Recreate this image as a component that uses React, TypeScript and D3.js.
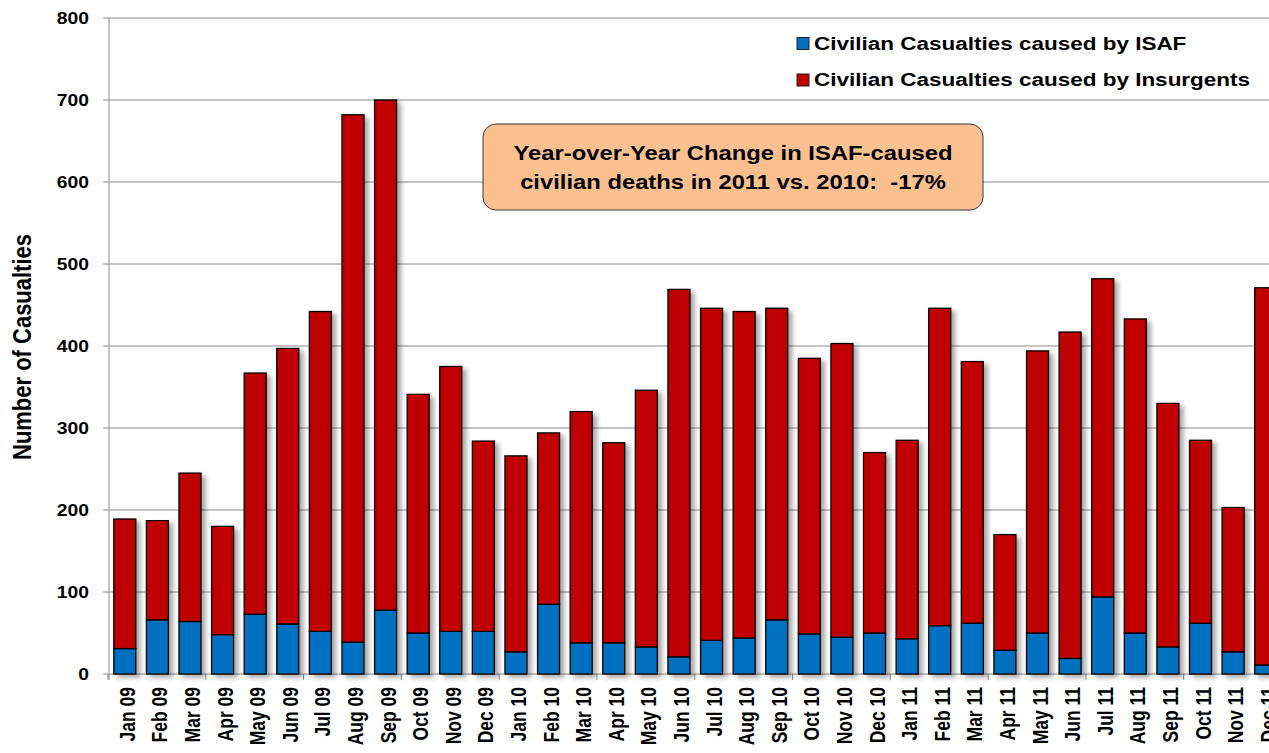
import React from "react";
import * as d3 from "d3";

const months = [
  "Jan 09","Feb 09","Mar 09","Apr 09","May 09","Jun 09","Jul 09","Aug 09","Sep 09","Oct 09","Nov 09","Dec 09",
  "Jan 10","Feb 10","Mar 10","Apr 10","May 10","Jun 10","Jul 10","Aug 10","Sep 10","Oct 10","Nov 10","Dec 10",
  "Jan 11","Feb 11","Mar 11","Apr 11","May 11","Jun 11","Jul 11","Aug 11","Sep 11","Oct 11","Nov 11","Dec 11",
];
const isaf = [31, 66, 64, 48, 73, 61, 52, 39, 78, 50, 52, 52, 27, 85, 38, 38, 33, 21, 41, 44, 66, 49, 45, 50, 43, 59, 62, 29, 50, 19, 94, 50, 33, 62, 27, 11];
const insurgents = [158, 121, 181, 132, 294, 336, 390, 643, 622, 291, 323, 232, 239, 209, 282, 244, 313, 448, 405, 398, 380, 336, 358, 220, 242, 387, 319, 141, 344, 398, 388, 383, 297, 223, 176, 460];
const yTicks = [0, 100, 200, 300, 400, 500, 600, 700, 800];
const seriesNames = ["Civilian Casualties caused by ISAF", "Civilian Casualties caused by Insurgents"];
const seriesColors = ["#0070C0", "#C00000"];
const annotationLines = ["Year-over-Year Change in ISAF-caused", "civilian deaths in 2011 vs. 2010:  -17%"];
const yTitle = "Number of Casualties";

const W = 1269, H = 753;
const font = "'Liberation Sans', Arial, sans-serif";

export default function App() {
  const x = d3.scaleBand<string>().domain(months).range([108.5, 1282]).paddingInner(0.325).paddingOuter(0.1625);
  const y = d3.scaleLinear().domain([0, 800]).range([674, 18]);
  const rows = months.map((m, i) => ({ month: m, isaf: isaf[i], insurgents: insurgents[i] }));
  const stack = d3.stack<any>().keys(["isaf", "insurgents"])(rows);
  const axisLeft = 109;
  const plotRight = W;
  const step = x.step();
  const tickIdx = d3.range(0, months.length + 1, 3);

  return (
    <svg width={W} height={H} style={{ position: "absolute", left: 0, top: 0, background: "#fff" }}>
      <defs>
        <filter id="shadow" x="-30%" y="-5%" width="180%" height="115%">
          <feGaussianBlur in="SourceAlpha" stdDeviation="2.5" />
          <feOffset dx="4" dy="3" result="b" />
          <feComponentTransfer><feFuncA type="linear" slope="0.35" /></feComponentTransfer>
          <feMerge><feMergeNode /><feMergeNode in="SourceGraphic" /></feMerge>
        </filter>
      </defs>
      {/* gridlines */}
      {yTicks.map((t) => (
        <line key={t} x1={axisLeft - 6} x2={plotRight} y1={y(t)} y2={y(t)} stroke="#8a8a8a" strokeWidth={1} />
      ))}
      {/* y axis line */}
      <line x1={axisLeft} x2={axisLeft} y1={y(800)} y2={y(0) + 6} stroke="#8a8a8a" strokeWidth={1} />
      {/* x tick marks */}
      {tickIdx.map((i) => {
        const xx = 108.5 + i * step - 0.5;
        return <line key={i} x1={xx} x2={xx} y1={y(0)} y2={y(0) + 6} stroke="#8a8a8a" strokeWidth={1} />;
      })}
      {/* y tick labels */}
      {yTicks.map((t) => (
        <text key={t} transform={`translate(89,${y(t)}) scale(1.17,1)`} dy="0.36em" textAnchor="end" fontFamily={font} fontWeight="bold" fontSize={16.5} fill="#000">{t}</text>
      ))}
      <text transform={`translate(31,347) scale(1.2,1) rotate(-90)`} textAnchor="middle" fontFamily={font} fontWeight="bold" fontSize={22} fill="#000">{yTitle}</text>
      {/* bars */}
      <g filter="url(#shadow)">
        {rows.map((r, i) => (
          <g key={r.month}>
            {stack.map((s, k) => (
              <rect key={k} x={x(r.month)!} width={x.bandwidth()} y={y(s[i][1])} height={y(s[i][0]) - y(s[i][1])}
                fill={seriesColors[k]} stroke="#000" strokeWidth={1.3} />
            ))}
          </g>
        ))}
      </g>
      {/* x labels */}
      {months.map((m) => {
        const cx = x(m)! + x.bandwidth() / 2;
        return (
          <text key={m} transform={`translate(${cx + 10},${y(0) + 13}) scale(1.28,1) rotate(-90)`} textAnchor="end" fontFamily={font} fontWeight="bold" fontSize={17.5} fill="#000">{m}</text>
        );
      })}
      {/* legend */}
      {seriesNames.map((n, k) => (
        <g key={n} transform={`translate(797,${43.5 + k * 36.5})`}>
          <rect x={0} y={-6} width={12} height={12} fill={seriesColors[k]} stroke="#222" strokeWidth={1} />
          <text transform="translate(17,0) scale(1.25,1)" dy="0.36em" fontFamily={font} fontWeight="bold" fontSize={18} fill="#000">{n}</text>
        </g>
      ))}
      {/* annotation */}
      <rect x={483} y={124} width={500} height={86} rx={13} ry={13} fill="#FAC090" stroke="#3a3a3a" strokeWidth={1} />
      {annotationLines.map((l, k) => (
        <text key={k} transform={`translate(733,${153 + k * 29}) scale(1.19,1)`} dy="0.36em" textAnchor="middle" fontFamily={font} fontWeight="bold" fontSize={20} fill="#000" style={{ whiteSpace: "pre" }}>{l}</text>
      ))}
    </svg>
  );
}
